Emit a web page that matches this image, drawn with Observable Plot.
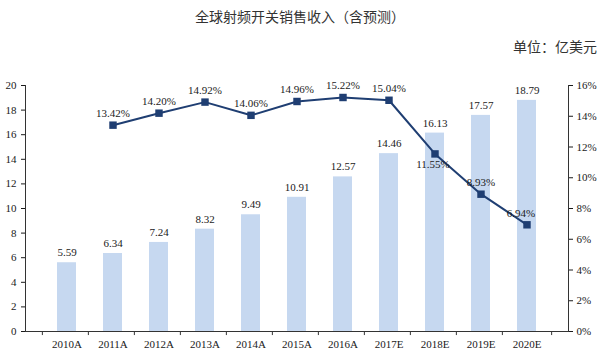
<!DOCTYPE html>
<html><head><meta charset="utf-8">
<script src="https://cdn.jsdelivr.net/npm/d3@7"></script>
<script src="https://cdn.jsdelivr.net/npm/@observablehq/plot@0.6"></script>
<style>
body{margin:0;background:#fff;}
#hdr{position:relative;width:600px;height:60px;font-family:"Noto Sans CJK SC",sans-serif;color:#333;}
#title{position:absolute;top:6px;left:0;width:600px;text-align:center;font-size:14px;}
#unit{position:absolute;top:36px;right:3px;font-size:14px;}
#chart svg, #chart svg text{font-family:"Liberation Serif", serif !important;}
</style></head><body>
<div id="hdr"><div id="title">全球射频开关销售收入（含预测）</div><div id="unit">单位：亿美元</div></div>
<div id="chart"></div>
<script>
const years = ["2010A","2011A","2012A","2013A","2014A","2015A","2016A","2017E","2018E","2019E","2020E"];
const revenue = [5.59,6.34,7.24,8.32,9.49,10.91,12.57,14.46,16.13,17.57,18.79];
const growthYears = ["2011A","2012A","2013A","2014A","2015A","2016A","2017E","2018E","2019E","2020E"];
const growth = [13.42,14.20,14.92,14.06,14.96,15.22,15.04,11.55,8.93,6.94];
const leftTicks = [0,2,4,6,8,10,12,14,16,18,20];
const rightTicks = [0,2,4,6,8,10,12,14,16];

const k = 20/16;
const bars = years.map((y,i)=>({year:y, value:revenue[i]}));
const line = growthYears.map((y,i)=>({year:y, g:growth[i]}));
const below = new Set(["2018E"]);
const leftShift = new Set(["2020E"]);
const font = '"Liberation Serif", serif';
const ink = "#1a1a1a";
const half = 542/11/2;

const plot = Plot.plot({
  width:600, height:297,
  marginTop:25, marginBottom:26, marginLeft:25, marginRight:32,
  style:{fontFamily:font, fontSize:"11px", color:ink, background:"#fff"},
  x:{domain:years, padding:0.59, label:null},
  y:{domain:[0,20], label:null},
  marks:[
    Plot.barY(bars,{x:"year", y:"value", fill:"#c6d8f0"}),
    Plot.text(bars,{x:"year", y:"value", text:d=>d.value.toFixed(2), dy:-10, fill:ink, fontSize:11}),
    Plot.line(line,{x:"year", y:d=>d.g*k, stroke:"#1f3e72", strokeWidth:2}),
    Plot.dot(line,{x:"year", y:d=>d.g*k, symbol:"square", r:4.2, fill:"#1f3e72"}),
    Plot.text(line.filter(d=>!below.has(d.year)&&!leftShift.has(d.year)),{x:"year", y:d=>d.g*k, text:d=>d.g.toFixed(2)+"%", dy:-12, fill:ink, fontSize:11}),
    Plot.text(line.filter(d=>below.has(d.year)),{x:"year", y:d=>d.g*k, text:d=>d.g.toFixed(2)+"%", dy:11, dx:-2, fill:ink, fontSize:11}),
    Plot.text(line.filter(d=>leftShift.has(d.year)),{x:"year", y:d=>d.g*k, text:d=>d.g.toFixed(2)+"%", dy:-11, dx:-6, fill:ink, fontSize:11}),
    Plot.axisY({anchor:"left", ticks:leftTicks, tickSize:4, tickPadding:5, label:null, fill:ink}),
    Plot.axisY({anchor:"right", ticks:rightTicks.map(v=>v*k), tickFormat:d=>Math.round(d/k)+"%", tickSize:4, tickPadding:4, label:null, fill:ink}),
    Plot.axisX({tickSize:0, tickPadding:9, label:null, fill:ink}),
    Plot.ruleX(years,{x:d=>d, y1:0, y2:-0.33, dx:-half, stroke:"#333"}),
    Plot.ruleX(years.slice(-1),{x:d=>d, y1:0, y2:-0.33, dx:half, stroke:"#333"}),
    Plot.frame({anchor:"left", stroke:"#333"}),
    Plot.frame({anchor:"right", stroke:"#333"}),
    Plot.ruleY([0],{stroke:"#333"})
  ]
});
document.getElementById("chart").appendChild(plot);
</script></body></html>
